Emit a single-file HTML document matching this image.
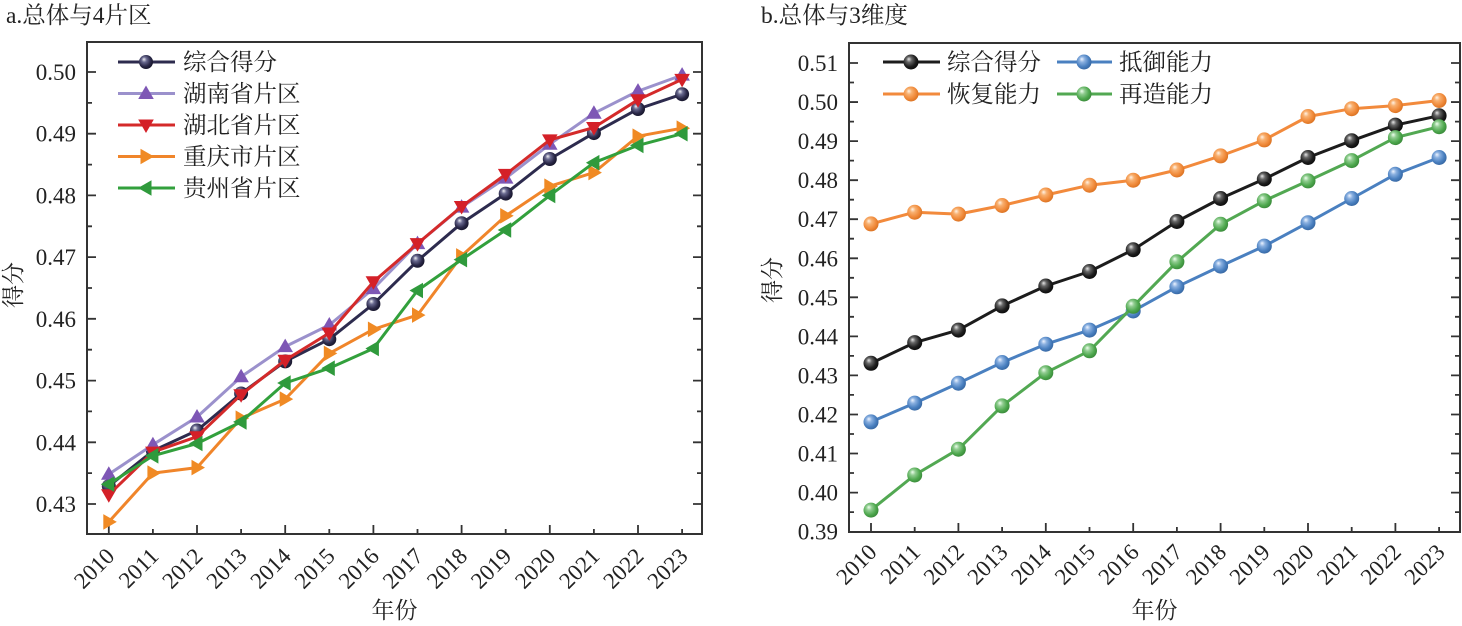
<!DOCTYPE html>
<html>
<head>
<meta charset="utf-8">
<style>
html,body{margin:0;padding:0;background:#fff;}
svg{display:block;}
text{font-family:"Liberation Serif","Noto Serif CJK SC",serif;fill:#222;}
.tk{font-size:23px;}
.lg{font-size:23.5px;}
.tt{font-size:23.5px;}
</style>
</head>
<body>
<svg width="1462" height="626" viewBox="0 0 1462 626" xmlns="http://www.w3.org/2000/svg">
<defs>
  <radialGradient id="gNavy" cx="0.42" cy="0.42" r="0.62" fx="0.35" fy="0.3">
    <stop offset="0" stop-color="#f0f0f5"/><stop offset="0.3" stop-color="#6a6a90"/><stop offset="0.7" stop-color="#2a2848"/><stop offset="1" stop-color="#151428"/>
  </radialGradient>
  <radialGradient id="gBlack" cx="0.42" cy="0.42" r="0.62" fx="0.35" fy="0.3">
    <stop offset="0" stop-color="#e6e6e6"/><stop offset="0.3" stop-color="#666"/><stop offset="0.7" stop-color="#1e1e1e"/><stop offset="1" stop-color="#0a0a0a"/>
  </radialGradient>
  <radialGradient id="gBlue" cx="0.42" cy="0.42" r="0.62" fx="0.35" fy="0.3">
    <stop offset="0" stop-color="#eef4ff"/><stop offset="0.3" stop-color="#8ab0e0"/><stop offset="0.7" stop-color="#4a80c0"/><stop offset="1" stop-color="#3565a0"/>
  </radialGradient>
  <radialGradient id="gOrange" cx="0.42" cy="0.42" r="0.62" fx="0.35" fy="0.3">
    <stop offset="0" stop-color="#fff3e6"/><stop offset="0.3" stop-color="#f8b070"/><stop offset="0.7" stop-color="#f08a3a"/><stop offset="1" stop-color="#d87020"/>
  </radialGradient>
  <radialGradient id="gGreen" cx="0.42" cy="0.42" r="0.62" fx="0.35" fy="0.3">
    <stop offset="0" stop-color="#eeffee"/><stop offset="0.3" stop-color="#90cc90"/><stop offset="0.7" stop-color="#4ea84e"/><stop offset="1" stop-color="#388838"/>
  </radialGradient>
  <circle id="mk" r="7.5"/>
  <circle id="mkn" r="7"/>
  <path id="tu" d="M0,-8 L7.8,5.5 L-7.8,5.5Z"/>
  <path id="td" d="M0,8 L7.8,-5.5 L-7.8,-5.5Z"/>
  <path id="tr" d="M8,0 L-5.5,-7.8 L-5.5,7.8Z"/>
  <path id="tl" d="M-8,0 L5.5,-7.8 L5.5,7.8Z"/>
</defs>

<!-- ============ LEFT PANEL ============ -->
<text class="tt" x="6" y="23">a.总体与4片区</text>

<g stroke="#333" stroke-width="2" fill="none">
  <rect x="87" y="42" width="615" height="492"/>
</g>
<!-- y ticks left & right -->
<g stroke="#333" stroke-width="1.8">
  <path d="M87,504H96 M87,442.3H96 M87,380.6H96 M87,318.8H96 M87,257.1H96 M87,195.4H96 M87,133.7H96 M87,72H96"/>
  <path d="M87,473.1H92 M87,411.4H92 M87,349.7H92 M87,288H92 M87,226.3H92 M87,164.6H92 M87,102.9H92"/>
  <path d="M702,504H693 M702,442.3H693 M702,380.6H693 M702,318.8H693 M702,257.1H693 M702,195.4H693 M702,133.7H693 M702,72H693"/>
  <path d="M702,473.1H697 M702,411.4H697 M702,349.7H697 M702,288H697 M702,226.3H697 M702,164.6H697 M702,102.9H697"/>
  <path d="M108.8,534V525 M197,534V525 M285.2,534V525 M373.4,534V525 M461.6,534V525 M549.8,534V525 M638,534V525"/>
  <path d="M152.9,534V529 M241.1,534V529 M329.3,534V529 M417.5,534V529 M505.7,534V529 M593.9,534V529 M682.1,534V529"/>
</g>
<g class="tk" text-anchor="end">
  <text x="76" y="512">0.43</text>
  <text x="76" y="450.3">0.44</text>
  <text x="76" y="388.6">0.45</text>
  <text x="76" y="326.8">0.46</text>
  <text x="76" y="265.1">0.47</text>
  <text x="76" y="203.4">0.48</text>
  <text x="76" y="141.7">0.49</text>
  <text x="76" y="80">0.50</text>
</g>
<g class="tk" text-anchor="end">
  <text transform="translate(115.8,557.5) rotate(-45)">2010</text>
  <text transform="translate(159.9,557.5) rotate(-45)">2011</text>
  <text transform="translate(204,557.5) rotate(-45)">2012</text>
  <text transform="translate(248.1,557.5) rotate(-45)">2013</text>
  <text transform="translate(292.2,557.5) rotate(-45)">2014</text>
  <text transform="translate(336.3,557.5) rotate(-45)">2015</text>
  <text transform="translate(380.4,557.5) rotate(-45)">2016</text>
  <text transform="translate(424.5,557.5) rotate(-45)">2017</text>
  <text transform="translate(468.6,557.5) rotate(-45)">2018</text>
  <text transform="translate(512.7,557.5) rotate(-45)">2019</text>
  <text transform="translate(556.8,557.5) rotate(-45)">2020</text>
  <text transform="translate(600.9,557.5) rotate(-45)">2021</text>
  <text transform="translate(645,557.5) rotate(-45)">2022</text>
  <text transform="translate(689.1,557.5) rotate(-45)">2023</text>
</g>
<text class="tk" x="394.5" y="618" text-anchor="middle">年份</text>
<text class="tk" transform="translate(21,285) rotate(-90)" text-anchor="middle">得分</text>

<!-- series left -->
<g fill="none" stroke-width="3" stroke-linejoin="round">
  <polyline stroke="#2d2b4e" points="108.8,486.1 152.9,450.9 197,430.5 241.1,393.5 285.2,361.4 329.3,339.2 373.4,304 417.5,260.8 461.6,223.2 505.7,193.6 549.8,159 593.9,133.1 638,109 682.1,94.2"/>
</g>
<g fill="url(#gNavy)">
  <use href="#mkn" x="108.8" y="486.1"/><use href="#mkn" x="152.9" y="450.9"/><use href="#mkn" x="197" y="430.5"/><use href="#mkn" x="241.1" y="393.5"/><use href="#mkn" x="285.2" y="361.4"/><use href="#mkn" x="329.3" y="339.2"/><use href="#mkn" x="373.4" y="304"/><use href="#mkn" x="417.5" y="260.8"/><use href="#mkn" x="461.6" y="223.2"/><use href="#mkn" x="505.7" y="193.6"/><use href="#mkn" x="549.8" y="159"/><use href="#mkn" x="593.9" y="133.1"/><use href="#mkn" x="638" y="109"/><use href="#mkn" x="682.1" y="94.2"/>
</g>
<polyline fill="none" stroke="#9b91cc" stroke-width="3" stroke-linejoin="round" points="108.8,474.3 152.9,444.7 197,417 241.1,376.8 285.2,346.6 329.3,325 373.4,288.6 417.5,243.6 461.6,207.1 505.7,178.1 549.8,144.2 593.9,113.3 638,91.1 682.1,75.1"/>
<g fill="#7e57b5">
  <use href="#tu" x="108.8" y="474.3"/><use href="#tu" x="152.9" y="444.7"/><use href="#tu" x="197" y="417"/><use href="#tu" x="241.1" y="376.8"/><use href="#tu" x="285.2" y="346.6"/><use href="#tu" x="329.3" y="325"/><use href="#tu" x="373.4" y="288.6"/><use href="#tu" x="417.5" y="243.6"/><use href="#tu" x="461.6" y="207.1"/><use href="#tu" x="505.7" y="178.1"/><use href="#tu" x="549.8" y="144.2"/><use href="#tu" x="593.9" y="113.3"/><use href="#tu" x="638" y="91.1"/><use href="#tu" x="682.1" y="75.1"/>
</g>
<polyline fill="none" stroke="#d42a2a" stroke-width="3" stroke-linejoin="round" points="108.8,494.7 152.9,452.1 197,436.7 241.1,394.7 285.2,360.2 329.3,333 373.4,281.8 417.5,243.6 461.6,206.5 505.7,174.4 549.8,139.9 593.9,127.5 638,99.8 682.1,79.4"/>
<g fill="#d42028">
  <use href="#td" x="108.8" y="494.7"/><use href="#td" x="152.9" y="452.1"/><use href="#td" x="197" y="436.7"/><use href="#td" x="241.1" y="394.7"/><use href="#td" x="285.2" y="360.2"/><use href="#td" x="329.3" y="333"/><use href="#td" x="373.4" y="281.8"/><use href="#td" x="417.5" y="243.6"/><use href="#td" x="461.6" y="206.5"/><use href="#td" x="505.7" y="174.4"/><use href="#td" x="549.8" y="139.9"/><use href="#td" x="593.9" y="127.5"/><use href="#td" x="638" y="99.8"/><use href="#td" x="682.1" y="79.4"/>
</g>
<polyline fill="none" stroke="#f0852a" stroke-width="3" stroke-linejoin="round" points="108.8,521.9 152.9,473.1 197,467.6 241.1,418.2 285.2,399.1 329.3,353.4 373.4,329.3 417.5,315.1 461.6,255.9 505.7,215.8 549.8,186.2 593.9,172.6 638,136.2 682.1,128.2"/>
<g fill="#f08a24">
  <use href="#tr" x="108.8" y="521.9"/><use href="#tr" x="152.9" y="473.1"/><use href="#tr" x="197" y="467.6"/><use href="#tr" x="241.1" y="418.2"/><use href="#tr" x="285.2" y="399.1"/><use href="#tr" x="329.3" y="353.4"/><use href="#tr" x="373.4" y="329.3"/><use href="#tr" x="417.5" y="315.1"/><use href="#tr" x="461.6" y="255.9"/><use href="#tr" x="505.7" y="215.8"/><use href="#tr" x="549.8" y="186.2"/><use href="#tr" x="593.9" y="172.6"/><use href="#tr" x="638" y="136.2"/><use href="#tr" x="682.1" y="128.2"/>
</g>
<polyline fill="none" stroke="#32a03c" stroke-width="3" stroke-linejoin="round" points="108.8,484.2 152.9,455.8 197,443.5 241.1,421.9 285.2,383 329.3,368.2 373.4,348.5 417.5,290.5 461.6,259.6 505.7,230 549.8,195.4 593.9,162.7 638,145.4 682.1,133.7"/>
<g fill="#2f9a3c">
  <use href="#tl" x="108.8" y="484.2"/><use href="#tl" x="152.9" y="455.8"/><use href="#tl" x="197" y="443.5"/><use href="#tl" x="241.1" y="421.9"/><use href="#tl" x="285.2" y="383"/><use href="#tl" x="329.3" y="368.2"/><use href="#tl" x="373.4" y="348.5"/><use href="#tl" x="417.5" y="290.5"/><use href="#tl" x="461.6" y="259.6"/><use href="#tl" x="505.7" y="230"/><use href="#tl" x="549.8" y="195.4"/><use href="#tl" x="593.9" y="162.7"/><use href="#tl" x="638" y="145.4"/><use href="#tl" x="682.1" y="133.7"/>
</g>

<!-- legend left -->
<g stroke-width="3">
  <line x1="118" y1="62" x2="175" y2="62" stroke="#2d2b4e"/>
  <line x1="118" y1="93.5" x2="175" y2="93.5" stroke="#9b91cc"/>
  <line x1="118" y1="125" x2="175" y2="125" stroke="#d42a2a"/>
  <line x1="118" y1="156.5" x2="175" y2="156.5" stroke="#f0852a"/>
  <line x1="118" y1="188" x2="175" y2="188" stroke="#32a03c"/>
</g>
<use href="#mkn" x="146" y="62" fill="url(#gNavy)"/>
<use href="#tu" x="146" y="93.5" fill="#7e57b5"/>
<use href="#td" x="146" y="125" fill="#d42028"/>
<use href="#tr" x="146" y="156.5" fill="#f08a24"/>
<use href="#tl" x="146" y="188" fill="#2f9a3c"/>
<g class="lg">
  <text x="183" y="70">综合得分</text>
  <text x="183" y="101.5">湖南省片区</text>
  <text x="183" y="133">湖北省片区</text>
  <text x="183" y="164.5">重庆市片区</text>
  <text x="183" y="196">贵州省片区</text>
</g>

<!-- ============ RIGHT PANEL ============ -->
<text class="tt" x="761" y="23">b.总体与3维度</text>
<rect x="849" y="43" width="611" height="489" fill="none" stroke="#333" stroke-width="2"/>
<g stroke="#333" stroke-width="1.8">
  <path d="M849,63H858 M849,102.05H858 M849,141.1H858 M849,180.2H858 M849,219.2H858 M849,258.3H858 M849,297.3H858 M849,336.4H858 M849,375.4H858 M849,414.5H858 M849,453.5H858 M849,492.6H858"/>
  <path d="M849,82.5H854 M849,121.6H854 M849,160.6H854 M849,199.7H854 M849,238.7H854 M849,277.8H854 M849,316.8H854 M849,355.9H854 M849,394.9H854 M849,434H854 M849,473H854 M849,512.1H854"/>
  <path d="M1460,63H1451 M1460,102.05H1451 M1460,141.1H1451 M1460,180.2H1451 M1460,219.2H1451 M1460,258.3H1451 M1460,297.3H1451 M1460,336.4H1451 M1460,375.4H1451 M1460,414.5H1451 M1460,453.5H1451 M1460,492.6H1451"/>
  <path d="M1460,82.5H1455 M1460,121.6H1455 M1460,160.6H1455 M1460,199.7H1455 M1460,238.7H1455 M1460,277.8H1455 M1460,316.8H1455 M1460,355.9H1455 M1460,394.9H1455 M1460,434H1455 M1460,473H1455 M1460,512.1H1455"/>
  <path d="M871,532V523 M958.4,532V523 M1045.8,532V523 M1133.2,532V523 M1220.6,532V523 M1308,532V523 M1395.4,532V523"/>
  <path d="M914.7,532V527 M1002.1,532V527 M1089.5,532V527 M1176.9,532V527 M1264.3,532V527 M1351.7,532V527 M1439.1,532V527"/>
</g>
<g class="tk" text-anchor="end">
  <text x="838" y="71">0.51</text>
  <text x="838" y="110">0.50</text>
  <text x="838" y="149.1">0.49</text>
  <text x="838" y="188.2">0.48</text>
  <text x="838" y="227.2">0.47</text>
  <text x="838" y="266.3">0.46</text>
  <text x="838" y="305.3">0.45</text>
  <text x="838" y="344.4">0.44</text>
  <text x="838" y="383.4">0.43</text>
  <text x="838" y="422.5">0.42</text>
  <text x="838" y="461.5">0.41</text>
  <text x="838" y="500.6">0.40</text>
  <text x="838" y="539.6">0.39</text>
</g>
<g class="tk" text-anchor="end">
  <text transform="translate(878,553.5) rotate(-45)">2010</text>
  <text transform="translate(921.7,553.5) rotate(-45)">2011</text>
  <text transform="translate(965.4,553.5) rotate(-45)">2012</text>
  <text transform="translate(1009.1,553.5) rotate(-45)">2013</text>
  <text transform="translate(1052.8,553.5) rotate(-45)">2014</text>
  <text transform="translate(1096.5,553.5) rotate(-45)">2015</text>
  <text transform="translate(1140.2,553.5) rotate(-45)">2016</text>
  <text transform="translate(1183.9,553.5) rotate(-45)">2017</text>
  <text transform="translate(1227.6,553.5) rotate(-45)">2018</text>
  <text transform="translate(1271.3,553.5) rotate(-45)">2019</text>
  <text transform="translate(1315,553.5) rotate(-45)">2020</text>
  <text transform="translate(1358.7,553.5) rotate(-45)">2021</text>
  <text transform="translate(1402.4,553.5) rotate(-45)">2022</text>
  <text transform="translate(1446.1,553.5) rotate(-45)">2023</text>
</g>
<text class="tk" x="1154.5" y="618" text-anchor="middle">年份</text>
<text class="tk" transform="translate(780,280) rotate(-90)" text-anchor="middle">得分</text>

<!-- series right -->
<polyline fill="none" stroke="#1c1c1c" stroke-width="3" stroke-linejoin="round" points="871,363.3 914.7,342.6 958.4,330.1 1002.1,305.9 1045.8,286 1089.5,271.5 1133.2,249.7 1176.9,221.5 1220.6,198.5 1264.3,179 1308,157.5 1351.7,140.7 1395.4,125.1 1439.1,115.7"/>
<g fill="url(#gBlack)">
  <use href="#mk" x="871" y="363.3"/><use href="#mk" x="914.7" y="342.6"/><use href="#mk" x="958.4" y="330.1"/><use href="#mk" x="1002.1" y="305.9"/><use href="#mk" x="1045.8" y="286"/><use href="#mk" x="1089.5" y="271.5"/><use href="#mk" x="1133.2" y="249.7"/><use href="#mk" x="1176.9" y="221.5"/><use href="#mk" x="1220.6" y="198.5"/><use href="#mk" x="1264.3" y="179"/><use href="#mk" x="1308" y="157.5"/><use href="#mk" x="1351.7" y="140.7"/><use href="#mk" x="1395.4" y="125.1"/><use href="#mk" x="1439.1" y="115.7"/>
</g>
<polyline fill="none" stroke="#4a80c0" stroke-width="3" stroke-linejoin="round" points="871,421.9 914.7,403.1 958.4,383.2 1002.1,362.5 1045.8,344.2 1089.5,330.1 1133.2,311 1176.9,286.8 1220.6,266.1 1264.3,246.1 1308,222.7 1351.7,198.5 1395.4,174.3 1439.1,157.5"/>
<g fill="url(#gBlue)">
  <use href="#mk" x="871" y="421.9"/><use href="#mk" x="914.7" y="403.1"/><use href="#mk" x="958.4" y="383.2"/><use href="#mk" x="1002.1" y="362.5"/><use href="#mk" x="1045.8" y="344.2"/><use href="#mk" x="1089.5" y="330.1"/><use href="#mk" x="1133.2" y="311"/><use href="#mk" x="1176.9" y="286.8"/><use href="#mk" x="1220.6" y="266.1"/><use href="#mk" x="1264.3" y="246.1"/><use href="#mk" x="1308" y="222.7"/><use href="#mk" x="1351.7" y="198.5"/><use href="#mk" x="1395.4" y="174.3"/><use href="#mk" x="1439.1" y="157.5"/>
</g>
<polyline fill="none" stroke="#f28a3c" stroke-width="3" stroke-linejoin="round" points="871,223.9 914.7,212.2 958.4,214.1 1002.1,205.5 1045.8,195 1089.5,185.2 1133.2,180.2 1176.9,170 1220.6,155.9 1264.3,139.9 1308,116.5 1351.7,108.7 1395.4,105.6 1439.1,100.5"/>
<g fill="url(#gOrange)">
  <use href="#mk" x="871" y="223.9"/><use href="#mk" x="914.7" y="212.2"/><use href="#mk" x="958.4" y="214.1"/><use href="#mk" x="1002.1" y="205.5"/><use href="#mk" x="1045.8" y="195"/><use href="#mk" x="1089.5" y="185.2"/><use href="#mk" x="1133.2" y="180.2"/><use href="#mk" x="1176.9" y="170"/><use href="#mk" x="1220.6" y="155.9"/><use href="#mk" x="1264.3" y="139.9"/><use href="#mk" x="1308" y="116.5"/><use href="#mk" x="1351.7" y="108.7"/><use href="#mk" x="1395.4" y="105.6"/><use href="#mk" x="1439.1" y="100.5"/>
</g>
<polyline fill="none" stroke="#52a852" stroke-width="3" stroke-linejoin="round" points="871,510.1 914.7,475 958.4,449.2 1002.1,405.9 1045.8,372.7 1089.5,350.8 1133.2,306.3 1176.9,261.8 1220.6,224.3 1264.3,200.8 1308,180.9 1351.7,160.6 1395.4,137.6 1439.1,126.7"/>
<g fill="url(#gGreen)">
  <use href="#mk" x="871" y="510.1"/><use href="#mk" x="914.7" y="475"/><use href="#mk" x="958.4" y="449.2"/><use href="#mk" x="1002.1" y="405.9"/><use href="#mk" x="1045.8" y="372.7"/><use href="#mk" x="1089.5" y="350.8"/><use href="#mk" x="1133.2" y="306.3"/><use href="#mk" x="1176.9" y="261.8"/><use href="#mk" x="1220.6" y="224.3"/><use href="#mk" x="1264.3" y="200.8"/><use href="#mk" x="1308" y="180.9"/><use href="#mk" x="1351.7" y="160.6"/><use href="#mk" x="1395.4" y="137.6"/><use href="#mk" x="1439.1" y="126.7"/>
</g>

<!-- legend right -->
<g stroke-width="3">
  <line x1="883" y1="62" x2="940" y2="62" stroke="#1c1c1c"/>
  <line x1="1057" y1="62" x2="1112" y2="62" stroke="#4a80c0"/>
  <line x1="883" y1="94" x2="940" y2="94" stroke="#f28a3c"/>
  <line x1="1057" y1="94" x2="1112" y2="94" stroke="#52a852"/>
</g>
<use href="#mk" x="911" y="62" fill="url(#gBlack)"/>
<use href="#mk" x="1084" y="62" fill="url(#gBlue)"/>
<use href="#mk" x="911" y="94" fill="url(#gOrange)"/>
<use href="#mk" x="1084" y="94" fill="url(#gGreen)"/>
<g class="lg">
  <text x="947" y="70">综合得分</text>
  <text x="1119" y="70">抵御能力</text>
  <text x="947" y="102">恢复能力</text>
  <text x="1119" y="102">再造能力</text>
</g>
</svg>
</body>
</html>
